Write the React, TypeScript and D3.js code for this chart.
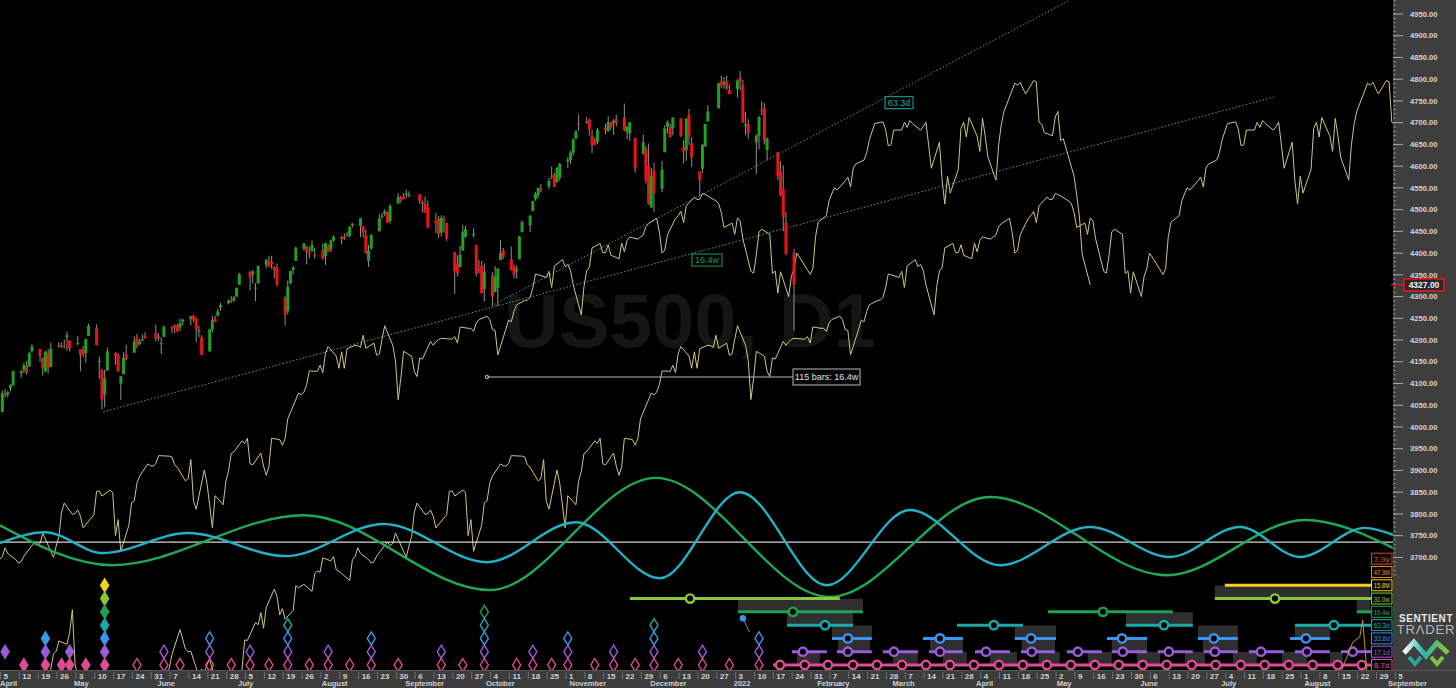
import React from 'react';
import * as d3 from 'd3';

// ---------- DATA ----------
// Daily candles [date, open, high, low, close]
const candles: [string, number, number, number, number][] = [
  ['2021-04-05',4034,4084,4034,4078],['2021-04-06',4076,4087,4068,4074],['2021-04-07',4074,4083,4068,4080],['2021-04-08',4089,4098,4082,4097],['2021-04-09',4096,4129,4095,4129],
  ['2021-04-12',4124,4131,4114,4128],['2021-04-13',4131,4148,4124,4142],['2021-04-14',4141,4152,4120,4125],['2021-04-15',4139,4173,4139,4170],['2021-04-16',4174,4191,4171,4185],
  ['2021-04-19',4179,4180,4150,4163],['2021-04-20',4159,4160,4118,4135],['2021-04-21',4128,4175,4126,4173],['2021-04-22',4170,4179,4123,4135],['2021-04-23',4138,4194,4138,4180],
  ['2021-04-26',4185,4195,4183,4188],['2021-04-27',4188,4194,4182,4187],['2021-04-28',4185,4201,4181,4183],['2021-04-29',4206,4219,4176,4211],['2021-04-30',4199,4199,4174,4181],
  ['2021-05-03',4192,4209,4188,4193],['2021-05-04',4179,4179,4128,4165],['2021-05-05',4177,4187,4160,4168],['2021-05-06',4170,4203,4148,4202],['2021-05-07',4210,4238,4210,4233],
  ['2021-05-10',4228,4236,4188,4188],['2021-05-11',4151,4162,4111,4152],['2021-05-12',4131,4134,4040,4063],['2021-05-13',4075,4132,4045,4113],['2021-05-14',4130,4183,4130,4174],
  ['2021-05-17',4170,4172,4143,4163],['2021-05-18',4166,4170,4127,4128],['2021-05-19',4099,4117,4062,4116],['2021-05-20',4122,4172,4121,4159],['2021-05-21',4168,4189,4153,4156],
  ['2021-05-24',4171,4209,4171,4197],['2021-05-25',4205,4214,4181,4188],['2021-05-26',4191,4203,4188,4196],['2021-05-27',4201,4213,4197,4201],['2021-05-28',4210,4218,4203,4204],
  ['2021-06-01',4216,4235,4197,4202],['2021-06-02',4207,4216,4198,4208],['2021-06-03',4191,4206,4168,4193],['2021-06-04',4207,4234,4207,4230],
  ['2021-06-07',4229,4232,4216,4227],['2021-06-08',4234,4236,4215,4227],['2021-06-09',4233,4237,4218,4220],['2021-06-10',4229,4249,4221,4239],['2021-06-11',4242,4249,4233,4247],
  ['2021-06-14',4248,4255,4234,4255],['2021-06-15',4256,4258,4241,4247],['2021-06-16',4249,4252,4195,4224],['2021-06-17',4220,4233,4206,4222],['2021-06-18',4205,4211,4165,4166],
  ['2021-06-21',4174,4226,4173,4225],['2021-06-22',4225,4256,4218,4246],['2021-06-23',4249,4256,4241,4242],['2021-06-24',4256,4272,4254,4266],['2021-06-25',4274,4286,4267,4281],
  ['2021-06-28',4285,4293,4282,4291],['2021-06-29',4293,4301,4285,4292],['2021-06-30',4291,4302,4287,4298],['2021-07-01',4300,4321,4300,4320],['2021-07-02',4327,4355,4327,4352],
  ['2021-07-06',4357,4359,4314,4344],['2021-07-07',4351,4361,4330,4358],['2021-07-08',4321,4331,4289,4321],['2021-07-09',4330,4372,4330,4370],
  ['2021-07-12',4373,4386,4365,4385],['2021-07-13',4381,4393,4368,4369],['2021-07-14',4380,4394,4364,4374],['2021-07-15',4369,4370,4342,4360],['2021-07-16',4367,4376,4323,4327],
  ['2021-07-19',4297,4301,4233,4258],['2021-07-20',4266,4337,4259,4323],['2021-07-21',4331,4359,4328,4359],['2021-07-22',4361,4370,4351,4367],['2021-07-23',4382,4415,4382,4412],
  ['2021-07-26',4410,4423,4406,4422],['2021-07-27',4416,4416,4374,4401],['2021-07-28',4402,4415,4388,4401],['2021-07-29',4404,4429,4404,4419],['2021-07-30',4396,4412,4387,4395],
  ['2021-08-02',4407,4422,4385,4387],['2021-08-03',4392,4424,4373,4423],['2021-08-04',4416,4420,4402,4403],['2021-08-05',4408,4430,4402,4429],['2021-08-06',4429,4441,4426,4437],
  ['2021-08-09',4437,4440,4420,4432],['2021-08-10',4436,4446,4430,4437],['2021-08-11',4443,4449,4437,4442],['2021-08-12',4440,4461,4436,4461],['2021-08-13',4464,4469,4459,4468],
  ['2021-08-16',4462,4480,4437,4480],['2021-08-17',4462,4462,4436,4448],['2021-08-18',4441,4454,4398,4400],['2021-08-19',4382,4419,4368,4406],['2021-08-20',4411,4444,4407,4442],
  ['2021-08-23',4450,4489,4450,4480],['2021-08-24',4484,4492,4479,4486],['2021-08-25',4490,4501,4485,4496],['2021-08-26',4493,4496,4469,4470],['2021-08-27',4474,4513,4468,4509],
  ['2021-08-30',4514,4538,4514,4529],['2021-08-31',4529,4532,4515,4523],['2021-09-01',4529,4537,4523,4524],['2021-09-02',4535,4546,4527,4537],['2021-09-03',4532,4542,4528,4535],
  ['2021-09-07',4535,4536,4513,4520],['2021-09-08',4518,4521,4493,4514],['2021-09-09',4514,4530,4493,4493],['2021-09-10',4506,4521,4457,4459],
  ['2021-09-13',4474,4492,4446,4469],['2021-09-14',4479,4485,4435,4443],['2021-09-15',4447,4487,4438,4481],['2021-09-16',4478,4486,4447,4474],['2021-09-17',4469,4471,4428,4433],
  ['2021-09-20',4402,4403,4306,4358],['2021-09-21',4375,4395,4347,4354],['2021-09-22',4368,4417,4367,4396],['2021-09-23',4406,4465,4406,4449],['2021-09-24',4438,4463,4435,4455],
  ['2021-09-27',4442,4457,4436,4443],['2021-09-28',4419,4419,4346,4353],['2021-09-29',4363,4385,4353,4359],['2021-09-30',4371,4382,4307,4308],['2021-10-01',4317,4376,4289,4357],
  ['2021-10-04',4348,4356,4279,4300],['2021-10-05',4310,4370,4310,4346],['2021-10-06',4320,4366,4278,4364],['2021-10-07',4384,4429,4384,4400],['2021-10-08',4406,4412,4386,4391],
  ['2021-10-11',4386,4415,4360,4361],['2021-10-12',4368,4374,4342,4351],['2021-10-13',4358,4372,4341,4364],['2021-10-14',4386,4440,4386,4438],['2021-10-15',4448,4475,4448,4471],
  ['2021-10-18',4464,4487,4448,4486],['2021-10-19',4497,4520,4496,4520],['2021-10-20',4524,4540,4520,4536],['2021-10-21',4533,4551,4527,4550],['2021-10-22',4547,4559,4540,4545],
  ['2021-10-25',4553,4573,4547,4566],['2021-10-26',4579,4599,4570,4575],['2021-10-27',4580,4585,4552,4552],['2021-10-28',4563,4598,4563,4596],['2021-10-29',4573,4608,4567,4605],
  ['2021-11-01',4611,4621,4596,4614],['2021-11-02',4614,4635,4605,4631],['2021-11-03',4631,4664,4624,4661],['2021-11-04',4663,4683,4663,4680],['2021-11-05',4699,4719,4681,4698],
  ['2021-11-08',4702,4714,4698,4702],['2021-11-09',4707,4709,4670,4685],['2021-11-10',4670,4684,4630,4647],['2021-11-11',4659,4665,4648,4649],['2021-11-12',4656,4688,4651,4683],
  ['2021-11-15',4689,4697,4673,4683],['2021-11-16',4680,4715,4680,4701],['2021-11-17',4702,4702,4684,4689],['2021-11-18',4700,4708,4672,4705],['2021-11-19',4708,4718,4691,4698],
  ['2021-11-22',4712,4744,4680,4683],['2021-11-23',4679,4691,4662,4691],['2021-11-24',4675,4702,4659,4701],['2021-11-26',4665,4665,4585,4595],
  ['2021-11-29',4629,4673,4626,4655],['2021-11-30',4640,4646,4560,4567],['2021-12-01',4602,4652,4511,4513],['2021-12-02',4505,4596,4504,4577],['2021-12-03',4590,4608,4495,4538],
  ['2021-12-06',4548,4612,4540,4592],['2021-12-07',4632,4694,4632,4687],['2021-12-08',4691,4705,4675,4701],['2021-12-09',4690,4697,4665,4667],['2021-12-10',4687,4713,4671,4712],
  ['2021-12-13',4710,4710,4667,4669],['2021-12-14',4643,4660,4606,4634],['2021-12-15',4637,4709,4612,4710],['2021-12-16',4719,4732,4649,4669],['2021-12-17',4652,4667,4598,4621],
  ['2021-12-20',4588,4588,4531,4568],['2021-12-21',4594,4651,4584,4649],['2021-12-22',4646,4697,4644,4697],['2021-12-23',4703,4740,4703,4726],
  ['2021-12-27',4733,4792,4733,4791],['2021-12-28',4795,4808,4780,4786],['2021-12-29',4788,4805,4778,4793],['2021-12-30',4795,4808,4775,4779],['2021-12-31',4775,4787,4766,4766],
  ['2022-01-03',4778,4800,4758,4797],['2022-01-04',4804,4819,4774,4794],['2022-01-05',4787,4798,4699,4701],['2022-01-06',4693,4725,4671,4696],['2022-01-07',4698,4708,4663,4677],
  ['2022-01-10',4655,4673,4582,4670],['2022-01-11',4669,4715,4638,4713],['2022-01-12',4729,4749,4717,4726],['2022-01-13',4733,4745,4650,4659],['2022-01-14',4637,4666,4614,4663],
  ['2022-01-18',4632,4632,4568,4577],['2022-01-19',4588,4611,4530,4533],['2022-01-20',4547,4602,4450,4483],['2022-01-21',4471,4495,4395,4398],['2022-01-24',4400,4410,4222,4327],
];

// Closes before the visible candles (feed the FLD lines)
const priorCloses: [string, number][] = [
  ['2020-08-03',3294],['2020-08-04',3306],['2020-08-05',3327],['2020-08-06',3349],['2020-08-07',3351],['2020-08-10',3360],['2020-08-11',3333],['2020-08-12',3380],['2020-08-13',3373],['2020-08-14',3372],
  ['2020-08-17',3381],['2020-08-18',3389],['2020-08-19',3374],['2020-08-20',3385],['2020-08-21',3397],['2020-08-24',3431],['2020-08-25',3443],['2020-08-26',3478],['2020-08-27',3484],['2020-08-28',3508],['2020-08-31',3500],
  ['2020-09-01',3527],['2020-09-02',3580],['2020-09-03',3455],['2020-09-04',3427],['2020-09-08',3331],['2020-09-09',3398],['2020-09-10',3339],['2020-09-11',3341],['2020-09-14',3383],['2020-09-15',3401],
  ['2020-09-16',3385],['2020-09-17',3357],['2020-09-18',3319],['2020-09-21',3281],['2020-09-22',3315],['2020-09-23',3237],['2020-09-24',3246],['2020-09-25',3298],['2020-09-28',3351],['2020-09-29',3335],['2020-09-30',3363],
  ['2020-10-01',3380],['2020-10-02',3348],['2020-10-05',3408],['2020-10-06',3361],['2020-10-07',3419],['2020-10-08',3446],['2020-10-09',3477],['2020-10-12',3534],['2020-10-13',3511],['2020-10-14',3489],
  ['2020-10-15',3483],['2020-10-16',3484],['2020-10-19',3427],['2020-10-20',3443],['2020-10-21',3435],['2020-10-22',3453],['2020-10-23',3465],['2020-10-26',3400],['2020-10-27',3391],['2020-10-28',3271],['2020-10-29',3310],['2020-10-30',3270],
  ['2020-11-02',3310],['2020-11-03',3370],['2020-11-04',3443],['2020-11-05',3510],['2020-11-06',3509],['2020-11-09',3550],['2020-11-10',3545],['2020-11-11',3573],['2020-11-12',3537],['2020-11-13',3585],
  ['2020-11-16',3627],['2020-11-17',3610],['2020-11-18',3568],['2020-11-19',3582],['2020-11-20',3558],['2020-11-23',3578],['2020-11-24',3635],['2020-11-25',3630],['2020-11-27',3638],['2020-11-30',3622],
  ['2020-12-01',3662],['2020-12-02',3669],['2020-12-03',3666],['2020-12-04',3699],['2020-12-07',3692],['2020-12-08',3702],['2020-12-09',3672],['2020-12-10',3668],['2020-12-11',3663],
  ['2020-12-14',3647],['2020-12-15',3695],['2020-12-16',3702],['2020-12-17',3722],['2020-12-18',3709],['2020-12-21',3695],['2020-12-22',3687],['2020-12-23',3690],['2020-12-24',3703],
  ['2020-12-28',3735],['2020-12-29',3727],['2020-12-30',3732],['2020-12-31',3756],
  ['2021-01-04',3700],['2021-01-05',3726],['2021-01-06',3748],['2021-01-07',3804],['2021-01-08',3825],['2021-01-11',3799],['2021-01-12',3801],['2021-01-13',3809],['2021-01-14',3795],['2021-01-15',3768],
  ['2021-01-19',3798],['2021-01-20',3852],['2021-01-21',3853],['2021-01-22',3841],['2021-01-25',3855],['2021-01-26',3849],['2021-01-27',3750],['2021-01-28',3787],['2021-01-29',3714],
  ['2021-02-01',3774],['2021-02-02',3826],['2021-02-03',3830],['2021-02-04',3871],['2021-02-05',3887],['2021-02-08',3915],['2021-02-09',3911],['2021-02-10',3910],['2021-02-11',3916],['2021-02-12',3934],
  ['2021-02-16',3933],['2021-02-17',3931],['2021-02-18',3913],['2021-02-19',3907],['2021-02-22',3876],['2021-02-23',3881],['2021-02-24',3925],['2021-02-25',3829],['2021-02-26',3811],
  ['2021-03-01',3901],['2021-03-02',3870],['2021-03-03',3820],['2021-03-04',3768],['2021-03-05',3842],['2021-03-08',3821],['2021-03-09',3875],['2021-03-10',3898],['2021-03-11',3939],['2021-03-12',3943],
  ['2021-03-15',3968],['2021-03-16',3962],['2021-03-17',3974],['2021-03-18',3915],['2021-03-19',3913],['2021-03-22',3940],['2021-03-23',3910],['2021-03-24',3889],['2021-03-25',3909],['2021-03-26',3974],
  ['2021-03-29',3971],['2021-03-30',3958],['2021-03-31',3973],['2021-04-01',4019],
];

// FLD displacement in calendar days
const fldShifts = [110, 241];

// Cycle waves: extremes as [days since 2021-04-05, price]
const greenWave: [number, number][] = [[-0.4,3774],[41.2,3682],[112.5,3797],[181.6,3625],[243.2,3883],[307.8,3609],[367.2,3839],[432.9,3659],[484.2,3786],[516.9,3722]];
const cyanWave: [number, number][] = [[-0.4,3733],[16.3,3758],[37.9,3710],[69.4,3756],[105.8,3703],[142.2,3777],[180.5,3689],[213.5,3781],[244.7,3652],[274.4,3850],[306.7,3636],[337.5,3809],[371,3682],[404.4,3770],[434.1,3701],[460.1,3770],[482.4,3701],[506.5,3768],[516.9,3752]];
const waveBaseline = 3735;

// Cycle rows
const rowNames = ['7.9y','47.3M','15.8M','31.0w','16.4w','63.3d','33.8d','17.1d','8.7d'];
const rowColors = ['#d8402a','#e58a2a','#f2d41c','#8cc63e','#1fa052','#1ba9aa','#3c95ea','#9b5bdb','#e04b95'];

// Trough markers (dates) per cycle
const troughs: Record<string, string[]> = {
  '15.8M': ['2021-05-13'],
  '31.0w': ['2021-05-13'],
  '16.4w': ['2021-05-13','2021-10-01'],
  '63.3d': ['2021-05-13','2021-07-20','2021-10-01','2021-12-03'],
  '33.8d': ['2021-04-21','2021-05-13','2021-06-21','2021-07-20','2021-08-20','2021-10-01','2021-11-01','2021-12-03','2022-01-11'],
  '17.1d': ['2021-04-06','2021-04-21','2021-04-30','2021-05-13','2021-06-04','2021-06-21','2021-07-06','2021-07-20','2021-08-04','2021-08-20','2021-09-15','2021-10-01','2021-10-19','2021-11-01','2021-11-18','2021-12-03','2021-12-21','2022-01-11'],
  '8.7d': ['2021-04-13','2021-04-21','2021-04-27','2021-04-30','2021-05-06','2021-05-13','2021-05-25','2021-06-04','2021-06-10','2021-06-21','2021-06-29','2021-07-06','2021-07-13','2021-07-20','2021-07-28','2021-08-04','2021-08-12','2021-08-20','2021-08-30','2021-09-15','2021-09-23','2021-10-01','2021-10-13','2021-10-19','2021-10-26','2021-11-01','2021-11-11','2021-11-18','2021-11-26','2021-12-03','2021-12-12','2021-12-21','2021-12-31','2022-01-11'],
};
const filledUntil = '2021-05-13';

// Projected trough ranges [startDay, endDay, centreDay|null] (days since 2021-04-05)
const projections: Record<string, [number, number, number | null][]> = {
  '15.8M': [[454.5,509.1,null]],
  '31.0w': [[233.6,311.5,255.9],[450.8,509.1,473.1]],
  '16.4w': [[273.7,320.1,294.1],[388.8,435.2,409.2],[503.5,509.1,null]],
  '63.3d': [[291.9,316.4,306],[355,379.5,368.7],[417.8,442.6,431.9],[480.5,509.1,495]],
  '33.8d': [[308.6,323.4,314.5],[342.4,357.2,348.7],[376.5,391.8,382.5],[410.7,425.6,416.3],[444.5,459.3,450.4],[478.7,493.5,484.6]],
  '17.1d': [[293.7,306.7,297.8],[310.4,323.4,314.5],[327.5,340.5,331.6],[344.6,357.2,348.7],[361.7,374.7,365.8],[378.8,391.4,382.8],[395.8,408.8,399.9],[412.5,425.6,416.6],[429.6,442.6,433.7],[446.7,459.3,450.8],[463.4,476.4,467.9],[480.5,493.5,485],[497.6,509.1,502]],
  '8.7d': [[286.7,509.1,null]],
};
const pinkCircles = [289.3,298.5,307.1,316.4,325.3,334.6,343.5,352.4,361.3,370.6,379.5,388.4,397.3,406.2,415.1,424.0,432.9,442.2,451.1,460.4,469.3,478.2,487.1,496.4,505.4];

// Shaded projection zones [startDay, endDay]
const zones: Record<string, [number, number][]> = {
  '31.0w': [[450.8,508.4]],
  '16.4w': [[273.7,320.1],[503.5,508.4]],
  '63.3d': [[291.9,316.4],[417.8,442.6]],
  '33.8d': [[308.6,323.4],[376.5,391.8],[444.5,459.3],[480.5,493.5]],
  '17.1d': [[310.8,322.7],[345,357.2],[379.1,391.4],[412.5,425.6],[446.3,459.3]],
  '8.7d': [[295.6,304.1],[331.2,340.5],[349.8,358.7],[367.3,377.3],[385.4,393.2],[403.6,412.5],[421.8,430.4],[439.7,447.1],[457.5,466.4],[475.7,485],[493.5,498.3]],
};

// Trend lines [day, price]
const trendA: [number, number][] = [[38,4035],[472.7,4759]];
const trendB: [number, number][] = [[182,4278],[396.9,4982]];
const trendALabel: [number, number] = [256.6,4384];
const trendBLabel: [number, number] = [328.3,4746];
const measure = { from: 180.5, to: 294.5, price: 4115, text: '115 bars: 16.4w' };
const orangeLine: [number, number][] = [[497.9,3441],[499.8,3471],[502,3505],[504.6,3517],[505.7,3556],[507.2,3441]];
const blueMarker: [number, number][] = [[275.5,3560],[278,3528]];

const priceTicks = [4950,4900,4850,4800,4750,4700,4650,4600,4550,4500,4450,4400,4350,4300,4250,4200,4150,4100,4050,4000,3950,3900,3850,3800,3750,3700];
const lastPrice = 4327;
const monthNames = ['April','May','June','July','August','September','October','November','December','2022','February','March','April','May','June','July','August','September'];

const FONT = '"Liberation Sans", Arial, Helvetica, sans-serif';
const PLOT_R = 1393;
const AXIS_Y = 670;

export default function App() {
  const parse = (s: string) => d3.utcParse('%Y-%m-%d')(s) as Date;
  const t0 = parse('2021-04-05');
  const DAY = 86400000;
  const x = d3.scaleUtc().domain([t0, parse('2022-08-29')]).range([1, 1377]);
  const y = d3.scaleLinear().domain([3700, 4950]).range([557.4, 14]);
  const xd = (d: number) => x(new Date(t0.getTime() + d * DAY));
  const dayOf = (s: string) => (parse(s).getTime() - t0.getTime()) / DAY;
  const half = (xd(1) - xd(0)) / 2;
  const rowY = d3.scalePoint<string>().domain(rowNames).range([558.7, 665]);
  const color = d3.scaleOrdinal<string, string>().domain(rowNames).range(rowColors);

  const line = d3.line<[number, number]>();
  const closes: [string, number][] = [...priorCloses, ...candles.map(c => [c[0], c[4]] as [string, number])];
  const fldPaths = fldShifts.map(s => line(closes.map(([d, c]) => [xd(dayOf(d) + s) + half, y(c)]))!);
  const wave = d3.line<[number, number]>().x(p => xd(p[0])).y(p => y(p[1])).curve(d3.curveMonotoneX);

  const mondays = d3.utcMonday.range(t0, parse('2022-09-06'));
  const months = d3.utcMonth.range(parse('2021-04-01'), parse('2022-09-02'));
  const fmtDay = d3.utcFormat('%-d');

  const diamond = (cx: number, cy: number) => `M${cx},${cy - 6.5}L${cx + 4},${cy}L${cx},${cy + 6.5}L${cx - 4},${cy}Z`;
  const fillCut = dayOf(filledUntil);

  return (
    <svg width={1456} height={688} style={{ position: 'absolute', left: 0, top: 0, background: '#000' }} fontFamily={FONT}>
      <defs>
        <clipPath id="plot"><rect x={0} y={0} width={PLOT_R} height={AXIS_Y} /></clipPath>
        <linearGradient id="logoG" x1="0" x2="1" y1="0" y2="0">
          <stop offset="0" stopColor="#ffffff" />
          <stop offset="0.45" stopColor="#2bb3a6" />
          <stop offset="1" stopColor="#8cc63e" />
        </linearGradient>
      </defs>
      <rect x={0} y={0} width={1456} height={688} fill="#000" />
      <g clipPath="url(#plot)">
        <text x={690} y={347} fontSize={76} fontWeight="bold" fill="#151515" textAnchor="middle">US500, D1</text>

        {/* trend lines */}
        <line x1={xd(trendA[0][0])} y1={y(trendA[0][1])} x2={xd(trendA[1][0])} y2={y(trendA[1][1])} stroke="#4fa57c" strokeWidth={1} strokeDasharray="1.5,2" />
        <line x1={xd(trendB[0][0])} y1={y(trendB[0][1])} x2={xd(trendB[1][0])} y2={y(trendB[1][1])} stroke="#3a9ea6" strokeWidth={1} strokeDasharray="1.5,2" />

        {/* FLD lines */}
        {fldPaths.map((p, i) => <path key={i} d={p} fill="none" stroke="#cdc686" strokeWidth={1} />)}

        {/* cycle waves */}
        <line x1={0} x2={PLOT_R} y1={y(waveBaseline)} y2={y(waveBaseline)} stroke="#d6d6d6" strokeWidth={1.3} />
        <path d={wave(greenWave)!} fill="none" stroke="#1fa956" strokeWidth={2.4} />
        <path d={wave(cyanWave)!} fill="none" stroke="#22b2c4" strokeWidth={2.4} />

        {/* candles */}
        {candles.map(([d, o, h, l, c]) => {
          const cx = x(parse(d)) + half;
          const up = c >= o;
          const top = y(Math.max(o, c));
          const bh = Math.max(1.2, Math.abs(y(o) - y(c)));
          return (
            <g key={d}>
              <line x1={cx} x2={cx} y1={y(h)} y2={y(l)} stroke="#909090" strokeWidth={1} />
              <rect x={cx - 1.5} y={top} width={3} height={bh} fill={up ? '#22a022' : '#e8141a'} />
            </g>
          );
        })}

        {/* measurement */}
        <line x1={xd(measure.from)} x2={xd(measure.to)} y1={y(measure.price)} y2={y(measure.price)} stroke="#b8b8b8" strokeWidth={1} />
        <circle cx={xd(measure.from)} cy={y(measure.price)} r={1.8} fill="none" stroke="#b8b8b8" />
        <rect x={xd(measure.to) - 1} y={y(measure.price) - 8} width={67} height={16} fill="#050505" stroke="#b8b8b8" strokeWidth={1} />
        <text x={xd(measure.to) + 32.5} y={y(measure.price) + 3.3} fontSize={9} fill="#e0e0e0" textAnchor="middle">{measure.text}</text>

        {/* trend labels */}
        <rect x={xd(trendALabel[0])} y={y(trendALabel[1]) - 6} width={30} height={12} fill="#000" stroke="#1fa052" />
        <text x={xd(trendALabel[0]) + 15} y={y(trendALabel[1]) + 3.3} fontSize={9} fill="#1fa052" textAnchor="middle">16.4w</text>
        <rect x={xd(trendBLabel[0])} y={y(trendBLabel[1]) - 6} width={28} height={12} fill="#000" stroke="#1ba9aa" />
        <text x={xd(trendBLabel[0]) + 14} y={y(trendBLabel[1]) + 3.3} fontSize={9} fill="#1ba9aa" textAnchor="middle">63.3d</text>

        {/* projection zones */}
        {Object.entries(zones).map(([name, zs]) => zs.map(([a, b], i) => (
          <rect key={name + i} x={xd(a)} y={rowY(name)! - 13} width={xd(b) - xd(a)} height={13} fill="#2f2f2f" />
        )))}

        {/* projection lines */}
        {Object.entries(projections).map(([name, segs]) => segs.map(([a, b, c], i) => (
          <g key={name + i}>
            <line x1={xd(a)} x2={xd(b)} y1={rowY(name)} y2={rowY(name)} stroke={color(name)} strokeWidth={3} />
            {c !== null && <circle cx={xd(c)} cy={rowY(name)} r={4.2} fill="#000" stroke={color(name)} strokeWidth={2.4} />}
          </g>
        )))}
        {pinkCircles.map((c, i) => (
          <circle key={'pc' + i} cx={xd(c)} cy={rowY('8.7d')} r={4.2} fill="#000" stroke={color('8.7d')} strokeWidth={2.4} />
        ))}

        {/* trough diamonds */}
        {Object.entries(troughs).map(([name, ds]) => ds.map(d => {
          const filled = dayOf(d) <= fillCut;
          return (
            <path key={name + d} d={diamond(x(parse(d)) + half, rowY(name)!)} fill={filled ? color(name) : 'none'} stroke={color(name)} strokeWidth={1.4} />
          );
        }))}

        <path d={line(orangeLine.map(p => [xd(p[0]), y(p[1])]))!} fill="none" stroke="#c98f35" strokeWidth={1} />
        <line x1={xd(blueMarker[0][0])} y1={y(blueMarker[0][1])} x2={xd(blueMarker[1][0])} y2={y(blueMarker[1][1])} stroke="#888" strokeWidth={1} />
        <circle cx={xd(blueMarker[0][0])} cy={y(blueMarker[0][1])} r={3.2} fill="#3c95ea" />

        {/* row labels */}
        {rowNames.map(n => (
          <g key={'lbl' + n}>
            <rect x={1371.5} y={rowY(n)! - 5.5} width={20.5} height={11} fill="#0a0a0a" stroke={color(n)} strokeWidth={1} />
            <text x={1381.7} y={rowY(n)! + 3} fontSize={8} fill={color(n)} textAnchor="middle" textLength={16} lengthAdjust="spacingAndGlyphs">{n}</text>
          </g>
        ))}
      </g>

      {/* right price axis */}
      <rect x={PLOT_R} y={0} width={1456 - PLOT_R} height={AXIS_Y} fill="#3e3e3e" />
      {d3.range(3660, 4990, 10).map(v => (
        <line key={'m' + v} x1={PLOT_R} x2={PLOT_R + 3} y1={y(v)} y2={y(v)} stroke="#9a9a9a" strokeWidth={0.8} />
      ))}
      {priceTicks.map(v => (
        <g key={v}>
          <line x1={PLOT_R} x2={PLOT_R + 10} y1={y(v)} y2={y(v)} stroke="#a8a8a8" strokeWidth={1} />
          <text x={1410} y={y(v) + 2.7} fontSize={7.6} fontWeight="bold" fill="#d6d6d6">{d3.format('.2f')(v)}</text>
        </g>
      ))}
      <line x1={PLOT_R - 2} x2={1404} y1={y(lastPrice)} y2={y(lastPrice)} stroke="#e01818" strokeWidth={1.5} />
      <rect x={1404} y={y(lastPrice) - 6} width={40} height={12} fill="#2a2a2a" stroke="#e01818" strokeWidth={1.6} />
      <text x={1424} y={y(lastPrice) + 3.2} fontSize={8.5} fontWeight="bold" fill="#f0f0f0" textAnchor="middle">{d3.format('.2f')(lastPrice)}</text>

      {/* logo */}
      <text x={1426} y={622} fontSize={10} fontWeight="bold" fill="#e8e8e8" textAnchor="middle" letterSpacing={0.6}>SENTIENT</text>
      <text x={1426} y={634} fontSize={13} fill="#b8b8b8" textAnchor="middle" letterSpacing={0.8} fontWeight={300}>TRΛDER</text>
      <path d="M1404,653 L1414,642 L1426,656 L1437,643 L1448,653" fill="none" stroke="url(#logoG)" strokeWidth={5} strokeLinejoin="miter" />
      <path d="M1409,657 L1415,664 L1421,657" fill="none" stroke="#2aa39a" strokeWidth={4} />
      <path d="M1431,657 L1437,664 L1443,657" fill="none" stroke="#7fbf45" strokeWidth={4} />

      {/* bottom time axis */}
      <rect x={0} y={AXIS_Y} width={1456} height={688 - AXIS_Y} fill="#3c3c3c" />
      <line x1={0} x2={1456} y1={AXIS_Y + 0.5} y2={AXIS_Y + 0.5} stroke="#585858" />
      {mondays.map(m => (
        <g key={+m}>
          <line x1={x(m) - 0.5} x2={x(m) - 0.5} y1={AXIS_Y + 2} y2={AXIS_Y + 9} stroke="#6e6e6e" strokeWidth={1} />
          <text x={x(m) + 2.5} y={679} fontSize={8} fontWeight="bold" fill="#d2d2d2">{fmtDay(m)}</text>
        </g>
      ))}
      {months.map((m, i) => (
        <text key={'mo' + i} x={Math.max(x(m) + 3, 0)} y={686} fontSize={7.5} fontWeight="bold" fill="#d2d2d2">{monthNames[i]}</text>
      ))}
    </svg>
  );
}
